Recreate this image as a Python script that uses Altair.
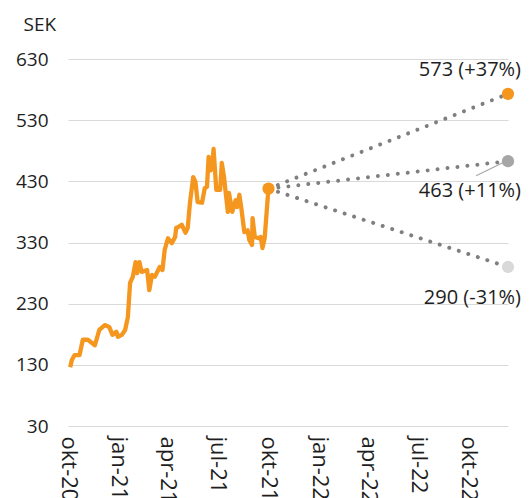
import altair as alt
import pandas as pd

# --- historical share price (SEK) ---
hist_dates = [
    "2020-10-05", "2020-10-08", "2020-10-13", "2020-10-22", "2020-10-28", "2020-11-06",
    "2020-11-19", "2020-11-27", "2020-12-07", "2020-12-15", "2020-12-21", "2020-12-28",
    "2020-12-31", "2021-01-07", "2021-01-13", "2021-01-18", "2021-01-22", "2021-01-27",
    "2021-02-01", "2021-02-04", "2021-02-08", "2021-02-12", "2021-02-22", "2021-02-26",
    "2021-03-03", "2021-03-08", "2021-03-17", "2021-03-22", "2021-03-26", "2021-04-01",
    "2021-04-08", "2021-04-14", "2021-04-16", "2021-04-19", "2021-04-26", "2021-05-03",
    "2021-05-07", "2021-05-11", "2021-05-17", "2021-05-21", "2021-05-25", "2021-06-02",
    "2021-06-07", "2021-06-11", "2021-06-14", "2021-06-18", "2021-06-21", "2021-06-23",
    "2021-06-28", "2021-07-05", "2021-07-08", "2021-07-12", "2021-07-19", "2021-07-21",
    "2021-07-27", "2021-08-02", "2021-08-05", "2021-08-09", "2021-08-13", "2021-08-18",
    "2021-08-24", "2021-08-27", "2021-09-01", "2021-09-02", "2021-09-06", "2021-09-13",
    "2021-09-17", "2021-09-20", "2021-09-24", "2021-09-30", "2021-10-01",
]
hist_prices = [
    126, 138, 146, 146, 171, 171,
    162, 187, 195, 192, 179, 184,
    176, 179, 187, 208, 264, 274,
    298, 280, 298, 282, 285, 252,
    277, 274, 290, 285, 318, 337,
    329, 339, 354, 355, 359, 346,
    354, 395, 437, 429, 396, 395,
    419, 421, 470, 448, 460, 483,
    416, 416, 460, 437, 380, 411,
    380, 399, 388, 408, 383, 347,
    350, 334, 326, 370, 339, 337,
    339, 321, 337, 408, 418,
]

# --- scenarios ---
proj_start_date = "2021-10-01"
proj_start_value = 418
proj_end_date = "2022-12-11"
scen_names = ["bull", "base", "bear"]
scen_values = [573, 463, 290]
scen_labels = ["573 (+37%)", "463 (+11%)", "290 (-31%)"]
scen_colors = ["#f5961f", "#a6a6a6", "#d9d9d9"]

# leader line for the middle label (annotation anchor, data coords)
leader_dates = ["2022-10-14", "2022-12-05"]
leader_values = [439, 462]

# axis ticks
y_ticks = [30, 130, 230, 330, 430, 530, 630]
x_tick_dates = [(2020, 10), (2021, 1), (2021, 4), (2021, 7), (2021, 10),
                (2022, 1), (2022, 4), (2022, 7), (2022, 10)]
months_sv = ["jan", "feb", "mar", "apr", "maj", "jun", "jul", "aug", "sep", "okt", "nov", "dec"]

FONT = "Open Sans"
FS = 19
FS_X = 22
FS_LAB = 20
TXT = "#1e1e1e"
ORANGE = "#f5961f"

hist = pd.DataFrame({"date": hist_dates, "price": hist_prices})
proj_rows = []
for n, v in zip(scen_names, scen_values):
    proj_rows.append({"scen": n, "date": proj_start_date, "price": proj_start_value})
    proj_rows.append({"scen": n, "date": proj_end_date, "price": v})
proj = pd.DataFrame(proj_rows)
ends = pd.DataFrame({"scen": scen_names, "date": [proj_end_date] * 3, "price": scen_values,
                     "label": scen_labels, "color": scen_colors})
last = pd.DataFrame({"date": [proj_start_date], "price": [proj_start_value]})
leader = pd.DataFrame({"date": [leader_dates[0]], "price": [leader_values[0]],
                       "date2": [leader_dates[1]], "price2": [leader_values[1]]})

label_expr = ("[" + ",".join("'%s'" % m for m in months_sv) + "][utcmonth(datum.value)]"
              " + '-' + utcFormat(datum.value, '%y')")

x_enc = alt.X(
    "date:T",
    scale=alt.Scale(type="utc",
                    domain=[alt.DateTime(year=2020, month=10, date=1, utc=True),
                            alt.DateTime(year=2022, month=12, date=11, utc=True)]),
    axis=alt.Axis(
        values=[alt.DateTime(year=y, month=m, date=1, utc=True) for y, m in x_tick_dates],
        labelExpr=label_expr, labelAngle=90, labelAlign="left", labelBaseline="middle",
        labelPadding=10, ticks=False, domain=False, grid=False, title=None,
        labelFont=FONT, labelFontSize=FS_X, labelColor=TXT, labelOverlap=False,
        labelFlush=False,
    ),
)
y_enc = alt.Y(
    "price:Q",
    scale=alt.Scale(domain=[30, 630], nice=False, zero=False),
    axis=alt.Axis(
        values=y_ticks, ticks=False, domain=False, grid=True, gridColor="#d9d9d9",
        gridWidth=1, labelPadding=20, labelFont=FONT, labelFontSize=FS, labelColor=TXT,
        title="SEK", titleAngle=0, titleAlign="left", titleBaseline="alphabetic",
        titleX=-45, titleY=-29, titleFont=FONT, titleFontSize=FS, titleFontWeight="normal",
        titleColor=TXT,
    ),
)

proj_lines = alt.Chart(proj).mark_line(
    color="#7f7f7f", strokeWidth=4, strokeDash=[0.01, 10], strokeCap="round"
).encode(x=x_enc, y=y_enc, detail="scen:N")

hist_line = alt.Chart(hist).mark_line(
    color=ORANGE, strokeWidth=4.3, strokeJoin="round"
).encode(x="date:T", y="price:Q")

last_dot = alt.Chart(last).mark_circle(size=150, opacity=1, color=ORANGE).encode(
    x="date:T", y="price:Q")

end_dots = alt.Chart(ends).mark_circle(size=150, opacity=1).encode(
    x="date:T", y="price:Q", color=alt.Color("color:N", scale=None))

leader_line = alt.Chart(leader).mark_rule(color="#a6a6a6", strokeWidth=1.2).encode(
    x="date:T", y="price:Q", x2="date2:T", y2="price2:Q")


def label_layer(name, dy):
    return alt.Chart(ends).transform_filter(alt.datum.scen == name).mark_text(
        align="right", baseline="alphabetic", dx=13, dy=dy, font=FONT, fontSize=FS_LAB,
        color=TXT
    ).encode(x="date:T", y="price:Q", text="label:N")


chart = alt.layer(
    proj_lines, hist_line, last_dot, end_dots, leader_line,
    label_layer("bull", -18), label_layer("base", 36), label_layer("bear", 37),
).properties(
    width=440, height=367,
    autosize=alt.AutoSizeParams(type="none"),
    padding={"left": 60, "top": 51, "right": 14, "bottom": 72},
).configure(background="white").configure_view(stroke=None)

chart.save("out.html", embed_options={"renderer": "svg", "actions": False})
